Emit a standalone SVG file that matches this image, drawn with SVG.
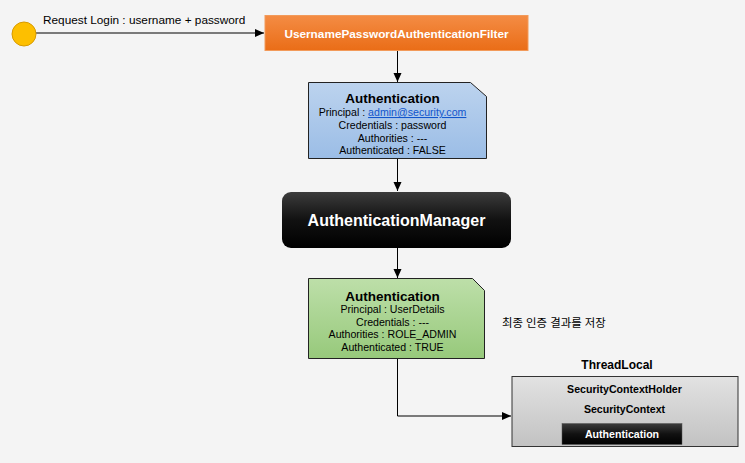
<svg xmlns="http://www.w3.org/2000/svg" width="745" height="463" viewBox="0 0 745 463">
<defs>
<linearGradient id="gOrange" x1="0" y1="0" x2="0" y2="1"><stop offset="0" stop-color="#f48c44"/><stop offset="1" stop-color="#ea6d17"/></linearGradient>
<linearGradient id="gBlue" x1="0" y1="0" x2="0" y2="1"><stop offset="0" stop-color="#bcd3ee"/><stop offset="1" stop-color="#9bbde6"/></linearGradient>
<linearGradient id="gGreen" x1="0" y1="0" x2="0" y2="1"><stop offset="0" stop-color="#bddfa9"/><stop offset="1" stop-color="#97c97b"/></linearGradient>
<linearGradient id="gBlack" x1="0" y1="0" x2="0" y2="1"><stop offset="0" stop-color="#3c3c3c"/><stop offset="0.5" stop-color="#111"/><stop offset="1" stop-color="#000"/></linearGradient>
<linearGradient id="gGray" x1="0" y1="0" x2="0" y2="1"><stop offset="0" stop-color="#e2e2e2"/><stop offset="1" stop-color="#c2c2c2"/></linearGradient>
<marker id="arr" markerWidth="10" markerHeight="10" refX="9" refY="5" orient="auto" markerUnits="userSpaceOnUse"><path d="M0,1 L9,5 L0,9 Z" fill="#000"/></marker>
<style>
text{font-family:"Liberation Sans",Arial,"Noto Sans CJK KR",sans-serif;fill:#000;}
.b{font-weight:bold;}
.c{text-anchor:middle;}
.s{font-size:10.6px;}
.w{fill:#fff;}
.ln{stroke:#000;stroke-width:1;fill:none;}
</style>
</defs>
<rect width="745" height="463" fill="#f4f4f4"/>

<g id="connectors">
<line class="ln" x1="36" y1="33" x2="264" y2="33" marker-end="url(#arr)"/>
<line class="ln" x1="397.5" y1="51" x2="397.5" y2="82" marker-end="url(#arr)"/>
<line class="ln" x1="397.5" y1="159" x2="397.5" y2="191" marker-end="url(#arr)"/>
<line class="ln" x1="397.5" y1="248" x2="397.5" y2="278" marker-end="url(#arr)"/>
<polyline class="ln" points="397.5,358 397.5,416 511,416" marker-end="url(#arr)"/>
<text x="43" y="24" font-size="11.8">Request Login : username + password</text>
</g>

<g id="start">
<circle cx="24" cy="34" r="12" fill="#fdbf00" stroke="#d79a00" stroke-width="1"/>
</g>

<g id="filter">
<rect x="265" y="15.5" width="263" height="35" fill="url(#gOrange)" stroke="#f29a5a" stroke-width="1"/>
<text class="b c w" x="396.5" y="37.5" font-size="11.8">UsernamePasswordAuthenticationFilter</text>
</g>

<g id="auth1">
<path d="M308.5,82.5 H470.5 L486.5,96.5 V158.5 H308.5 Z" fill="url(#gBlue)" stroke="#222" stroke-width="1"/>
<text class="b c" x="392.5" y="103" font-size="13.5">Authentication</text>
<text class="c s" x="392.5" y="116">Principal : <tspan fill="#1155cc" text-decoration="underline">admin@security.com</tspan></text>
<text class="c s" x="392.5" y="128.5">Credentials : password</text>
<text class="c s" x="392.5" y="141.5">Authorities : ---</text>
<text class="c s" x="392.5" y="154">Authenticated : FALSE</text>
</g>

<g id="manager">
<rect x="282" y="192" width="229" height="56" rx="9" fill="url(#gBlack)"/>
<text class="b c w" x="396.5" y="226" font-size="16">AuthenticationManager</text>
</g>

<g id="auth2">
<path d="M308.5,278.5 H472.5 L484.5,290.5 V358.5 H308.5 Z" fill="url(#gGreen)" stroke="#222" stroke-width="1"/>
<text class="b c" x="392.5" y="300.5" font-size="13.5">Authentication</text>
<text class="c s" x="392.5" y="313">Principal : UserDetails</text>
<text class="c s" x="392.5" y="325.5">Credentials : ---</text>
<text class="c s" x="392.5" y="338">Authorities : ROLE_ADMIN</text>
<text class="c s" x="392.5" y="351">Authenticated : TRUE</text>
</g>

<g id="note">
<text x="502" y="327" font-size="11.4">최종 인증 결과를 저장</text>
</g>

<g id="threadlocal">
<text class="b c" x="617" y="368.5" font-size="12">ThreadLocal</text>
<rect x="512" y="376.5" width="226" height="70" fill="url(#gGray)" stroke="#333" stroke-width="1"/>
<text class="b c s" x="624.5" y="392.5">SecurityContextHolder</text>
<text class="b c s" x="624.5" y="413">SecurityContext</text>
<rect x="562" y="423.5" width="120" height="21" fill="url(#gBlack)" stroke="#555" stroke-width="0.5"/>
<text class="b c w s" x="622" y="437.5">Authentication</text>
</g>
</svg>
